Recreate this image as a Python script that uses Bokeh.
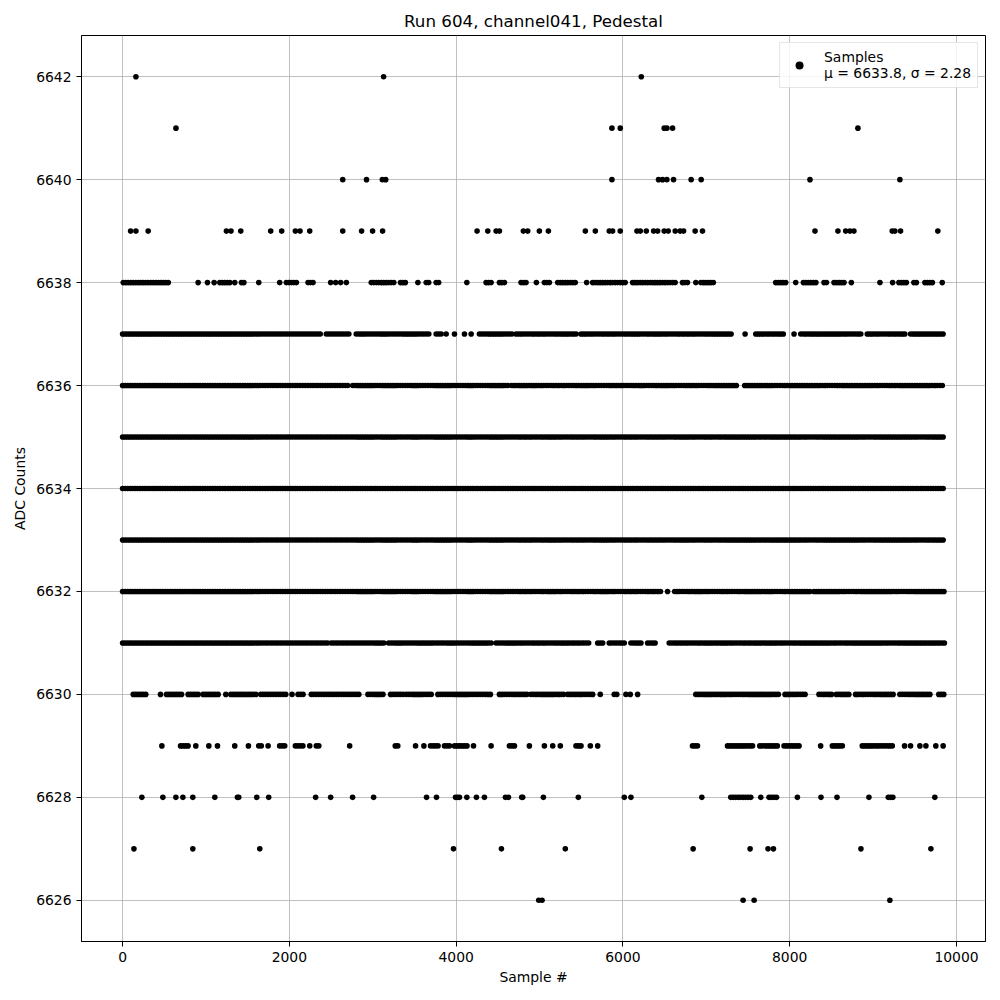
import numpy as np
from bokeh.plotting import figure
from bokeh.models import Range1d, Legend, LegendItem, ColumnDataSource, FixedTicker
from bokeh.embed import file_html
from bokeh.resources import INLINE

title_text = "Run 604, channel041, Pedestal"
x_label = "Sample #"
y_label = "ADC Counts"
series_label = "Samples"
mean_adc = 6633.8
sigma_adc = 2.28
x_ticks = [0, 2000, 4000, 6000, 8000, 10000]
y_ticks = [6626, 6628, 6630, 6632, 6634, 6636, 6638, 6640, 6642]
last_sample = 9855

# Occupied sample numbers for each ADC level.
# A plain number is a single sample; a pair (first, last) is a stretch where samples sit densely.
level_6642 = [160, 3130, 6220]
level_6641 = [640, 5868, 5968, 6495, 6527, 6595, 8818]
level_6640 = [2640, 2925, 3115, 3155, 5868, 6427, 6475, 6527, 6607, 6818, 6938, 8243, 9321]
level_6639 = [96, 160, 307, 1245, 1300, 1417, 1776, 1908, 2072, 2128, 2244, 2640, 2866, 2998, 3118,
              4251, 4379, 4479, 4519, 4806, 4858, 4998, 5106, 5549, 5669, 5836, 5876, 5968, 6168, 6208,
              6280, 6368, 6416, 6495, 6543, 6627, 6686, 6727, 6866, 6954, 8303, 8578, 8671, 8722, 8770,
              9229, 9261, 9329, 9776]
level_6638 = [(8, 567), (906, 930), 1018, 1098, (1166, 1286), 1345, (1425, 1477), 1633, 1884, (1964, 2104),
              (2224, 2303), 2495, 2555, 2615, 2683, (2982, 3281), 3333, (3361, 3413), 3541, (3641, 3681),
              (3760, 3800), 4128, (4359, 4439), (4519, 4579), (4778, 4858), 4962, (5058, 5138), (5218, 5437),
              5565, (5637, 6036), (6116, 6655), (6714, 6774), 6874, (6934, 7094), (7832, 7952), 8072,
              (8164, 8331), (8411, 8463), (8531, 8663), (8739, 8763), 9082, 9234, (9309, 9401), (9489, 9521),
              (9621, 9721), (9829, 9849)]
level_6637 = [(0, 2383), (2443, 2723), (2802, 3681), (3760, 3820), 3880, 3980, 4100, 4180, (4279, 4679),
              (4719, 5457), (5497, 7314), 7465, (7593, 7952), 8052, (8132, 8870), (8930, 9409), (9449, 9848)]
level_6636 = [(0, 2720), (2760, 4640), (4665, 4875), (4900, 7360), (7460, 9850)]
level_6635 = [(0, 9852)]
level_6634 = [(0, 9852)]
level_6633 = [(0, 9852)]
level_6632 = [(0, 6470), 6535, (6620, 8260), (8290, 9852)]
level_6631 = [(0, 2463), (2503, 3162), (3190, 4439), (4479, 5617), (5697, 5776), (5836, 6036), (6096, 6216),
              (6296, 6415), (6555, 9855)]
level_6630 = [(128, 307), 455, (527, 727), (786, 926), (966, 1166), 1238, (1298, 1617), (1657, 1984), 2032,
              (2104, 2184), (2263, 2842), (2942, 3142), (3214, 3381), (3401, 3721), (3781, 4419), (4519, 4858),
              (4898, 5297), (5337, 5656), 5728, (5896, 5936), 6036, 6088, 6176, (6874, 7892), (7944, 8192),
              (8351, 8511), (8559, 8711), (8790, 9249), (9321, 9709), (9788, 9855)]
level_6629 = [471, (695, 806), 878, 1034, 1138, (1345, 1373), 1509, (1633, 1673), 1745, (1884, 1972),
              (2072, 2172), 2244, (2323, 2371), (2723, 2743), (3270, 3321), 3513, 3613, (3693, 3800),
              (3860, 3920), (3980, 4140), 4208, 4419, (4639, 4719), (4878, 4898), 5058, 5158, 5249,
              (5437, 5497), 5609, 5697, (6834, 6894), (7254, 7573), (7641, 7852), (7932, 8123), 8371,
              (8511, 8638), (8870, 9249), 9377, 9449, 9561, 9633, 9752, 9840]
level_6628 = [231, 483, 639, 723, 842, 1106, 1377, 1393, 1609, 1752, 2315, 2495, 2758, 3010, 3645, 3764,
              3992, 4016, 4040, 4128, 4243, 4339, 4591, 4627, 4786, 4798, 5046, 5465, 6016, 6096, 6946,
              (7293, 7533), 7653, (7752, 7852), 8092, 8375, 8567, 8950, 9182, 9210, 9237, 9740]
level_6627 = [136, 842, 1645, 3968, 4543, 5309, 6842, 7525, 7740, 7805, 8854, 9693]
level_6626 = [4990, 5030, 7441, 7573, 9201]

levels = {
    6642: level_6642, 6641: level_6641, 6640: level_6640, 6639: level_6639, 6638: level_6638,
    6637: level_6637, 6636: level_6636, 6635: level_6635, 6634: level_6634, 6633: level_6633,
    6632: level_6632, 6631: level_6631, 6630: level_6630, 6629: level_6629, 6628: level_6628,
    6627: level_6627, 6626: level_6626,
}

xs, ys = [], []
for adc, entries in levels.items():
    for e in entries:
        if isinstance(e, tuple):
            pts = list(np.arange(e[0], e[1] + 1, 30))
        else:
            pts = [e]
        xs.extend(pts)
        ys.extend([adc] * len(pts))

src = ColumnDataSource(dict(x=xs, y=ys))

pad_x = 0.05 * last_sample
pad_y = 0.05 * (max(levels) - min(levels))

FONT = "DejaVu Sans"
p = figure(width=1000, height=1000, output_backend="svg", toolbar_location=None,
           x_range=Range1d(-pad_x, last_sample + pad_x),
           y_range=Range1d(min(levels) - pad_y, max(levels) + pad_y),
           min_border_left=81, min_border_right=15, min_border_top=35, min_border_bottom=59)
p.title.text = title_text
p.title.align = "center"
p.title.text_font = FONT
p.title.text_font_size = "16.7px"
p.title.text_font_style = "normal"
p.title.text_color = "black"

p.outline_line_color = "black"
p.outline_line_width = 1
p.outline_line_alpha = 1

for ax in (p.xaxis[0], p.yaxis[0]):
    ax.axis_label_text_font = FONT
    ax.axis_label_text_font_size = "13.9px"
    ax.axis_label_text_font_style = "normal"
    ax.axis_label_text_color = "black"
    ax.major_label_text_font = FONT
    ax.major_label_text_font_size = "13.9px"
    ax.major_label_text_color = "black"
    ax.major_tick_out = 5
    ax.major_tick_in = 0
    ax.minor_tick_out = 0
    ax.minor_tick_in = 0
    ax.axis_line_color = "black"
    ax.major_tick_line_color = "black"

p.xaxis[0].axis_label = x_label
p.yaxis[0].axis_label = y_label
p.xaxis[0].ticker = FixedTicker(ticks=x_ticks)
p.yaxis[0].ticker = FixedTicker(ticks=y_ticks)
p.xaxis[0].axis_label_standoff = 4
p.yaxis[0].axis_label_standoff = 5

p.grid.grid_line_color = "#b0b0b0"
p.grid.grid_line_width = 0.8
p.grid.grid_line_alpha = 1

r = p.scatter("x", "y", source=src, size=5.6, color="black", line_width=0)

label = f"{series_label}\nμ = {mean_adc}, σ = {sigma_adc}"
legend = Legend(items=[LegendItem(label=label, renderers=[r])], location="top_right")
legend.label_text_font = FONT
legend.label_text_font_size = "13.9px"
legend.label_text_color = "black"
legend.border_line_color = "#cccccc"
legend.border_line_width = 1
legend.background_fill_alpha = 0.8
legend.margin = 7
legend.padding = 6
legend.glyph_width = 26
legend.label_standoff = 12
p.add_layout(legend)

open("out.html", "w").write(file_html(p, INLINE))
